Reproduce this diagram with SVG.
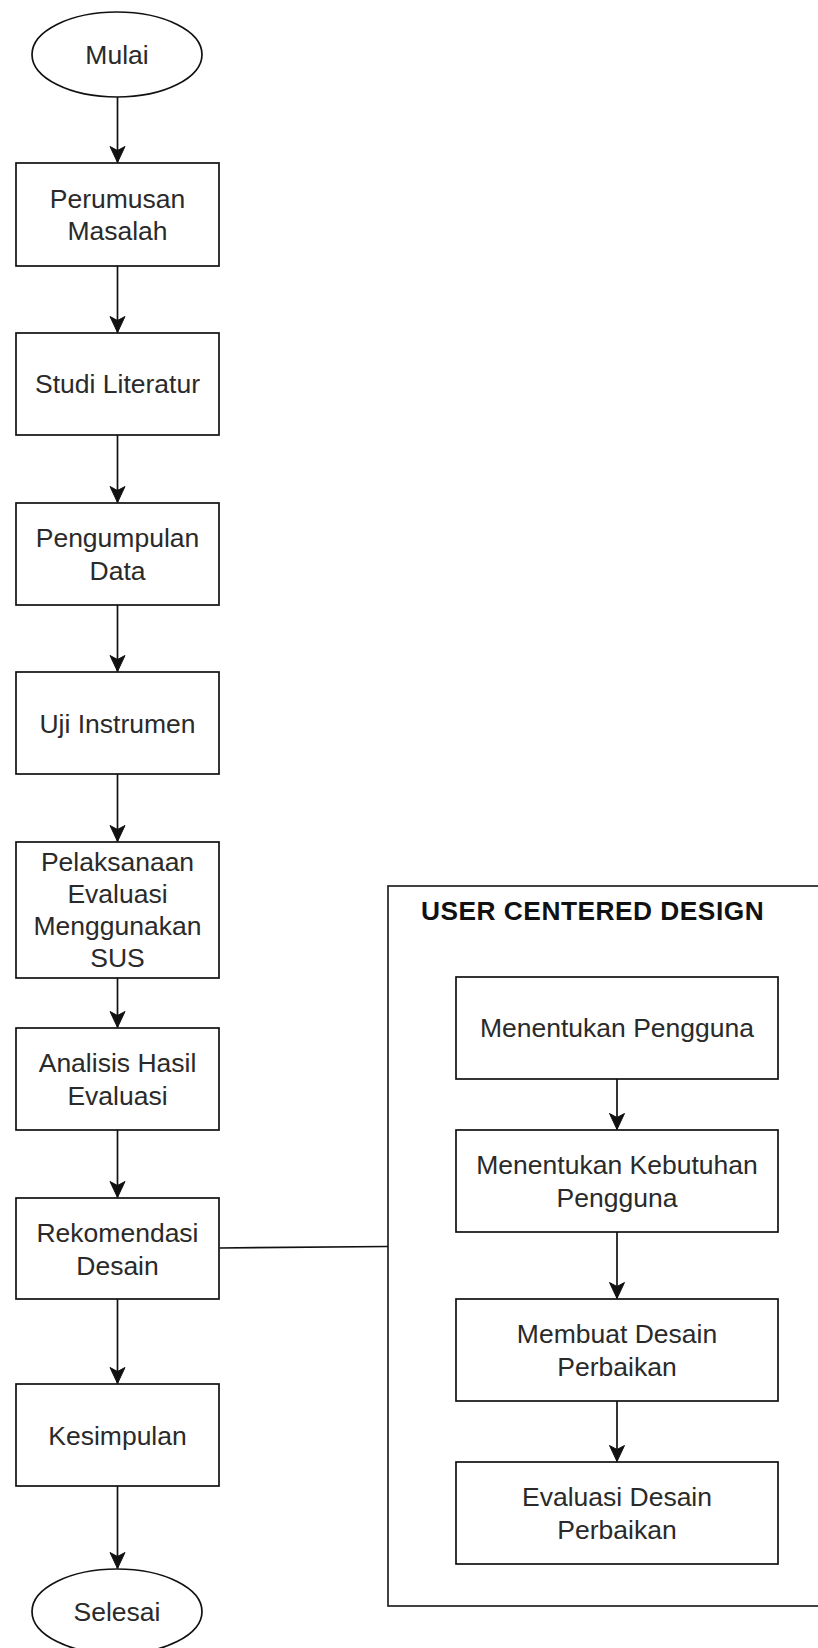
<svg xmlns="http://www.w3.org/2000/svg" width="818" height="1648" viewBox="0 0 818 1648">
<style>
.shape{fill:#fff;stroke:#111;stroke-width:1.7}
.frame{fill:none;stroke:#222;stroke-width:1.7}
.t{font-family:"Liberation Sans",Arial,sans-serif;font-size:26.5px;fill:#2a2a2a;text-anchor:middle}
.title{font-family:"Liberation Sans",Arial,sans-serif;font-size:26.3px;font-weight:bold;fill:#111;letter-spacing:0.5px}
.edge{fill:none;stroke:#111;stroke-width:1.7}
</style>
<defs>
<marker id="arr" markerUnits="userSpaceOnUse" markerWidth="22" markerHeight="20" viewBox="-19 -10 22 20" refX="0" refY="0" orient="auto">
<path d="M0,0 L-16,-7.5 L-12,0 L-16,7.5 Z" fill="#111" stroke="#111" stroke-width="1"/>
</marker>
</defs>
<rect width="818" height="1648" fill="#fff"/>

<g id="ucd">
<rect class="frame" x="388" y="886" width="440" height="720"/>
<text class="title" x="421" y="920">USER CENTERED DESIGN</text>
</g>

<g id="connectors">
<line class="edge" x1="117.5" y1="97" x2="117.5" y2="162.5" marker-end="url(#arr)"/>
<line class="edge" x1="117.5" y1="266" x2="117.5" y2="332.5" marker-end="url(#arr)"/>
<line class="edge" x1="117.5" y1="435" x2="117.5" y2="502.5" marker-end="url(#arr)"/>
<line class="edge" x1="117.5" y1="605" x2="117.5" y2="671.5" marker-end="url(#arr)"/>
<line class="edge" x1="117.5" y1="774" x2="117.5" y2="841.5" marker-end="url(#arr)"/>
<line class="edge" x1="117.5" y1="978" x2="117.5" y2="1027.5" marker-end="url(#arr)"/>
<line class="edge" x1="117.5" y1="1130" x2="117.5" y2="1197.5" marker-end="url(#arr)"/>
<line class="edge" x1="117.5" y1="1299" x2="117.5" y2="1383.5" marker-end="url(#arr)"/>
<line class="edge" x1="117.5" y1="1486" x2="117.5" y2="1568.5" marker-end="url(#arr)"/>
<line class="edge" x1="219.5" y1="1248" x2="388" y2="1246.5"/>
<line class="edge" x1="617" y1="1079" x2="617" y2="1129.5" marker-end="url(#arr)"/>
<line class="edge" x1="617" y1="1232" x2="617" y2="1298.5" marker-end="url(#arr)"/>
<line class="edge" x1="617" y1="1401" x2="617" y2="1461.5" marker-end="url(#arr)"/>
</g>

<g id="mulai">
<ellipse class="shape" cx="117" cy="54.5" rx="85" ry="42.5"/>
<text class="t" x="117" y="64">Mulai</text>
</g>
<g id="perumusan">
<rect class="shape" x="16" y="163" width="203" height="103"/>
<text class="t" x="117.5" y="207.5">Perumusan</text>
<text class="t" x="117.5" y="240">Masalah</text>
</g>
<g id="studi">
<rect class="shape" x="16" y="333" width="203" height="102"/>
<text class="t" x="117.5" y="393">Studi Literatur</text>
</g>
<g id="pengumpulan">
<rect class="shape" x="16" y="503" width="203" height="102"/>
<text class="t" x="117.5" y="547">Pengumpulan</text>
<text class="t" x="117.5" y="580">Data</text>
</g>
<g id="uji">
<rect class="shape" x="16" y="672" width="203" height="102"/>
<text class="t" x="117.5" y="732.5">Uji Instrumen</text>
</g>
<g id="pelaksanaan">
<rect class="shape" x="16" y="842" width="203" height="136"/>
<text class="t" x="117.5" y="870.5">Pelaksanaan</text>
<text class="t" x="117.5" y="902.5">Evaluasi</text>
<text class="t" x="117.5" y="935">Menggunakan</text>
<text class="t" x="117.5" y="967">SUS</text>
</g>
<g id="analisis">
<rect class="shape" x="16" y="1028" width="203" height="102"/>
<text class="t" x="117.5" y="1072">Analisis Hasil</text>
<text class="t" x="117.5" y="1105">Evaluasi</text>
</g>
<g id="rekomendasi">
<rect class="shape" x="16" y="1198" width="203" height="101"/>
<text class="t" x="117.5" y="1242">Rekomendasi</text>
<text class="t" x="117.5" y="1275">Desain</text>
</g>
<g id="kesimpulan">
<rect class="shape" x="16" y="1384" width="203" height="102"/>
<text class="t" x="117.5" y="1444.5">Kesimpulan</text>
</g>
<g id="selesai">
<ellipse class="shape" cx="117" cy="1611.5" rx="85" ry="42.5"/>
<text class="t" x="117" y="1621">Selesai</text>
</g>

<g id="menentukan-pengguna">
<rect class="shape" x="456" y="977" width="322" height="102"/>
<text class="t" x="617" y="1037">Menentukan Pengguna</text>
</g>
<g id="menentukan-kebutuhan">
<rect class="shape" x="456" y="1130" width="322" height="102"/>
<text class="t" x="617" y="1174">Menentukan Kebutuhan</text>
<text class="t" x="617" y="1207">Pengguna</text>
</g>
<g id="membuat-desain">
<rect class="shape" x="456" y="1299" width="322" height="102"/>
<text class="t" x="617" y="1343">Membuat Desain</text>
<text class="t" x="617" y="1376">Perbaikan</text>
</g>
<g id="evaluasi-desain">
<rect class="shape" x="456" y="1462" width="322" height="102"/>
<text class="t" x="617" y="1506">Evaluasi Desain</text>
<text class="t" x="617" y="1539">Perbaikan</text>
</g>
</svg>
